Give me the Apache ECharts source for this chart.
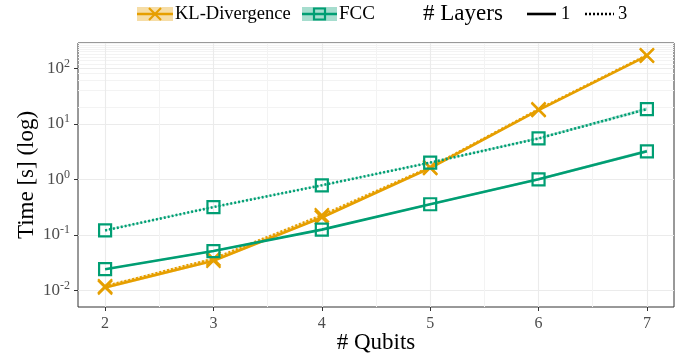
<!DOCTYPE html>
<html>
<head>
<meta charset="utf-8">
<script src="https://cdn.jsdelivr.net/npm/echarts@6/dist/echarts.min.js"></script>
<style>html,body{margin:0;padding:0;background:#fff}#c{width:688px;height:360px}</style>
</head>
<body>
<div id="c"></div>
<script>
// ---- data ----
const qubits = [2, 3, 4, 5, 6, 7];
const kl1 = [0.0112, 0.034, 0.205, 1.6, 17.7, 168];
const kl3 = [0.0118, 0.037, 0.225, 1.65, 18.2, 172];
const fcc1 = [0.024, 0.051, 0.124, 0.355, 1.0, 3.2];
const fcc3 = [0.12, 0.316, 0.78, 2.0, 5.45, 18.4];
const kl1Lo = [0.0106, 0.0325, 0.197, 1.55, 17.1, 163];
const kl1Hi = [0.0118, 0.0356, 0.213, 1.66, 18.3, 174];
const kl3Lo = [0.0112, 0.0355, 0.217, 1.6, 17.6, 166];
const kl3Hi = [0.0124, 0.0386, 0.233, 1.71, 18.8, 178];
const fcc1Lo = [0.0232, 0.049, 0.12, 0.342, 0.95, 3.0];
const fcc1Hi = [0.0248, 0.053, 0.128, 0.37, 1.06, 3.45];
const fcc3Lo = [0.117, 0.309, 0.765, 1.95, 5.25, 17.4];
const fcc3Hi = [0.123, 0.323, 0.795, 2.06, 5.7, 19.6];
const seriesNames = ['KL-Divergence', 'FCC'];
const layerNames = ['1', '3'];
const yMajor = [0.01, 0.1, 1, 10, 100];
const yMinor = [20, 40, 60, 80, 120, 140, 160, 180, 200, 220, 240, 260, 280];
const xMajor = [2, 3, 4, 5, 6, 7];
const xMinor = [2.5, 3.5, 4.5, 5.5, 6.5];

const ORANGE = '#E69F00', GREEN = '#009E73';
const FONT = '"Liberation Serif", "DejaVu Serif", serif';
const CROSS = 'path://M0,0L10,10M10,0L0,10';

const chart = echarts.init(document.getElementById('c'), null, {renderer: 'canvas'});

function pairs(ys) { return qubits.map((x, i) => [x, ys[i]]); }

function ribbon(lo, hi, color, z) {
  return {
    type: 'custom', xAxisIndex: 0, yAxisIndex: 0, z: z, silent: true,
    data: [[qubits[0], lo[0]]],
    renderItem: function (params, api) {
      const pts = [];
      for (let i = 0; i < qubits.length; i++) pts.push(api.coord([qubits[i], hi[i]]));
      for (let i = qubits.length - 1; i >= 0; i--) pts.push(api.coord([qubits[i], lo[i]]));
      return {type: 'polygon', shape: {points: pts}, style: {fill: color, stroke: null}};
    }
  };
}

function lineSeries(name, ys, color, dashed, symbol, size, z) {
  return {
    type: 'line', name: name, xAxisIndex: 0, yAxisIndex: 0, z: z,
    data: pairs(ys),
    symbol: symbol, symbolSize: size, showSymbol: true,
    lineStyle: {color: color, width: 2.6, type: dashed ? [2, 2] : 'solid', cap: 'butt'},
    itemStyle: {color: symbol === 'rect' ? 'rgba(0,0,0,0)' : color, borderColor: color, borderWidth: 2.2},
    emphasis: {disabled: true}, animation: false
  };
}

const axisLab = {color: '#4d4d4d', fontFamily: FONT};

const legendY = 14;
const graphic = [
  // KL legend key
  {type: 'rect', shape: {x: 137, y: 7, width: 36, height: 14}, style: {fill: 'rgba(230,159,0,0.35)'}},
  {type: 'line', shape: {x1: 137, y1: legendY, x2: 173, y2: legendY}, style: {stroke: ORANGE, lineWidth: 2.6}},
  {type: 'line', shape: {x1: 149, y1: 8, x2: 161, y2: 20}, style: {stroke: ORANGE, lineWidth: 2.2}},
  {type: 'line', shape: {x1: 161, y1: 8, x2: 149, y2: 20}, style: {stroke: ORANGE, lineWidth: 2.2}},
  {type: 'text', x: 175, y: legendY, style: {text: seriesNames[0], font: '18.5px ' + FONT, fill: '#000', verticalAlign: 'middle'}},
  // FCC legend key
  {type: 'rect', shape: {x: 302, y: 7, width: 35, height: 14}, style: {fill: 'rgba(0,158,115,0.35)'}},
  {type: 'line', shape: {x1: 302, y1: legendY, x2: 337, y2: legendY}, style: {stroke: GREEN, lineWidth: 2.6}},
  {type: 'rect', shape: {x: 314, y: 8.5, width: 11, height: 11}, style: {stroke: GREEN, lineWidth: 2.2, fill: 'rgba(0,0,0,0)'}},
  {type: 'text', x: 339, y: legendY, style: {text: seriesNames[1], font: '19px ' + FONT, fill: '#000', verticalAlign: 'middle'}},
  // Layers legend
  {type: 'text', x: 423, y: legendY, style: {text: '# Layers', font: '23px ' + FONT, fill: '#000', verticalAlign: 'middle'}},
  {type: 'line', shape: {x1: 527, y1: legendY, x2: 556, y2: legendY}, style: {stroke: '#000', lineWidth: 2.6}},
  {type: 'text', x: 561, y: legendY, style: {text: layerNames[0], font: '18.5px ' + FONT, fill: '#000', verticalAlign: 'middle'}},
  {type: 'line', shape: {x1: 585, y1: legendY, x2: 614, y2: legendY}, style: {stroke: '#000', lineWidth: 2.6, lineDash: [2, 2]}},
  {type: 'text', x: 618, y: legendY, style: {text: layerNames[1], font: '18.5px ' + FONT, fill: '#000', verticalAlign: 'middle'}}
];

const option = {
  animation: false,
  backgroundColor: '#fff',
  grid: {left: 78, right: 14, top: 43, bottom: 53, show: true, borderColor: '#333', borderWidth: 1, backgroundColor: 'transparent', containLabel: false, outerBoundsMode: 'none'},
  graphic: graphic,
  xAxis: [{
    type: 'value', min: 1.75, max: 7.25,
    name: '# Qubits', nameLocation: 'middle', nameGap: 24, nameMoveOverlap: false,
    nameTextStyle: {fontSize: 23, fontFamily: FONT, color: '#000'},
    axisLine: {show: false},
    axisTick: {show: true, length: 4, lineStyle: {color: '#333'}, customValues: xMajor},
    axisLabel: Object.assign({fontSize: 16, margin: 9, customValues: xMajor, formatter: v => String(v)}, axisLab),
    splitLine: {show: true, lineStyle: {color: '#ebebeb', width: 1.1}}
  }, {
    type: 'value', min: 1.75, max: 7.25, position: 'bottom',
    axisLine: {show: false}, axisLabel: {show: false},
    axisTick: {show: false, customValues: xMinor},
    splitLine: {show: true, lineStyle: {color: '#f3f3f3', width: 1}}
  }],
  yAxis: [{
    type: 'log', logBase: 10, min: 0.005, max: 286,
    name: 'Time [s] (log)', nameLocation: 'middle', nameGap: 40, nameRotate: 90, nameMoveOverlap: false,
    nameTextStyle: {fontSize: 23, fontFamily: FONT, color: '#000'},
    axisLine: {show: false},
    axisTick: {show: true, length: 4, lineStyle: {color: '#333'}, customValues: yMajor},
    axisLabel: Object.assign({
      margin: 8, customValues: yMajor,
      formatter: v => '{b|10}{s|' + Math.round(Math.log10(v)) + '}',
      rich: {
        b: {fontSize: 17, fontFamily: FONT, color: '#4d4d4d'},
        s: {fontSize: 12, fontFamily: FONT, color: '#4d4d4d', verticalAlign: 'bottom', padding: [0, 0, 9, 0]}
      }
    }, axisLab),
    splitLine: {show: true, lineStyle: {color: '#ebebeb', width: 1.1}}
  }, {
    type: 'log', logBase: 10, min: 0.005, max: 286, position: 'left',
    axisLine: {show: false}, axisLabel: {show: false},
    axisTick: {show: false, customValues: yMinor},
    splitLine: {show: true, lineStyle: {color: '#f3f3f3', width: 1}}
  }],
  series: [
    ribbon(kl1Lo, kl1Hi, 'rgba(230,159,0,0.3)', 1),
    ribbon(kl3Lo, kl3Hi, 'rgba(230,159,0,0.3)', 1),
    ribbon(fcc1Lo, fcc1Hi, 'rgba(0,158,115,0.3)', 1),
    ribbon(fcc3Lo, fcc3Hi, 'rgba(0,158,115,0.3)', 1),
    lineSeries(seriesNames[0] + ' 1', kl1, ORANGE, false, CROSS, 14, 3),
    lineSeries(seriesNames[0] + ' 3', kl3, ORANGE, true, CROSS, 14, 4),
    lineSeries(seriesNames[1] + ' 1', fcc1, GREEN, false, 'rect', 12, 5),
    lineSeries(seriesNames[1] + ' 3', fcc3, GREEN, true, 'rect', 12, 6)
  ]
};
chart.setOption(option);
</script>
</body>
</html>
